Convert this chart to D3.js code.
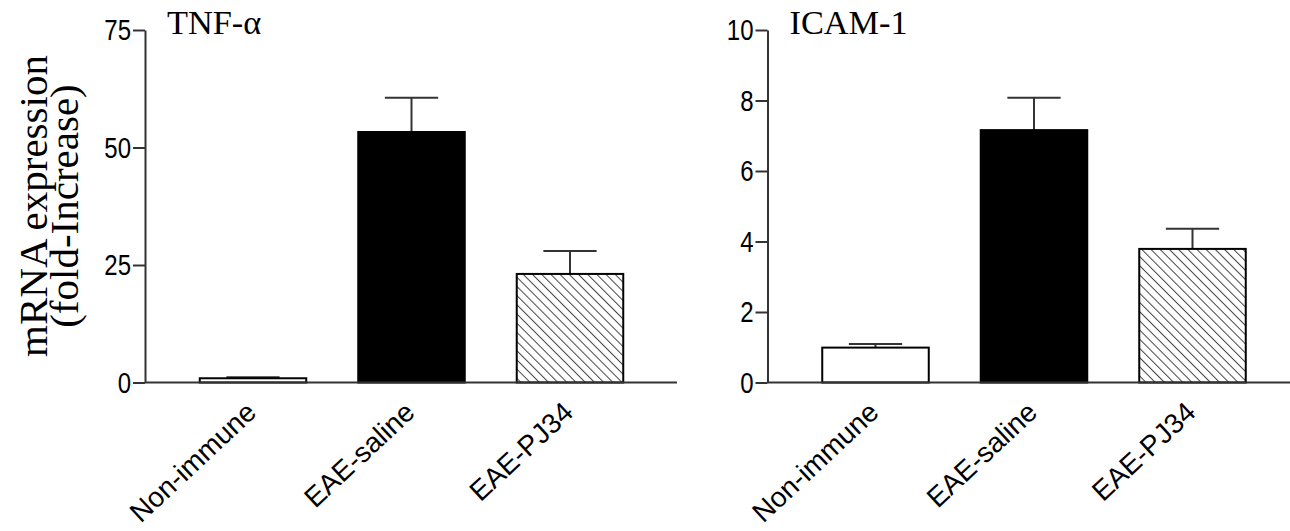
<!DOCTYPE html>
<html>
<head>
<meta charset="utf-8">
<script src="https://cdn.jsdelivr.net/npm/d3@7"></script>
<style>
  body { margin: 0; background: white; }
</style>
</head>
<body>
<div id="canvas"></div>
<script>
"use strict"

/* Data */
let categories = ["Non-immune", "EAE-saline", "EAE-PJ34"];
let tnfMean = [0.9, 53.3, 23.1];
let tnfSem = [0.2, 7.3, 4.9];
let icamMean = [0.99, 7.16, 3.79];
let icamSem = [0.1, 0.92, 0.57];
let tnfTicks = [0, 25, 50, 75];
let icamTicks = [0, 2, 4, 6, 8, 10];
let fills = ["white", "black", "url(#hatch)"];

/* Configuration variables: drawing */
let svgWidth = 1290;
let svgHeight = 531;
let plotTop = 30;
let plotBottom = 382.5;
let plotWidth = 532;
let axisColor = "#333";
let sansFont = "'Liberation Sans', Arial, sans-serif";
let serifFont = "'Liberation Serif', 'Times New Roman', serif";

let svg = d3.select("#canvas")
    .append("svg")
    .attr("width", svgWidth)
    .attr("height", svgHeight);

/* hatch for the PJ34 bars */
let pattern = svg.append("defs")
    .append("pattern")
    .attr("id", "hatch")
    .attr("patternUnits", "userSpaceOnUse")
    .attr("width", 6.5)
    .attr("height", 6.5)
    .attr("patternTransform", "rotate(-45)");
pattern.append("rect")
    .attr("width", 6.5)
    .attr("height", 6.5)
    .attr("fill", "white");
pattern.append("line")
    .attr("x1", 0.5).attr("y1", 0)
    .attr("x2", 0.5).attr("y2", 6.5)
    .attr("stroke", "#444")
    .attr("stroke-width", 1);

function drawPanel(x0, title, means, sems, ticks) {
    let g = svg.append("g");

    let xScale = d3.scaleBand()
        .domain(categories)
        .range([x0 + 28.75, x0 + 504.25])
        .paddingInner(0.328)
        .paddingOuter(0.164);

    let yScale = d3.scaleLinear()
        .domain([0, d3.max(ticks)])
        .range([plotBottom, plotTop]);

    let rows = categories.map(function (c, i) {
        return { cat: c, mean: means[i], sem: sems[i], fill: fills[i] };
    });

    /* error bars (drawn first so the bar covers the stem) */
    let err = g.selectAll("g.err")
        .data(rows)
        .join("g")
        .attr("class", "err")
        .attr("stroke", "#333")
        .attr("stroke-width", 2);
    err.append("line")
        .attr("x1", d => xScale(d.cat) + xScale.bandwidth() / 2)
        .attr("x2", d => xScale(d.cat) + xScale.bandwidth() / 2)
        .attr("y1", d => yScale(d.mean))
        .attr("y2", d => yScale(d.mean + d.sem));
    err.append("line")
        .attr("x1", d => xScale(d.cat) + xScale.bandwidth() / 4)
        .attr("x2", d => xScale(d.cat) + xScale.bandwidth() * 3 / 4)
        .attr("y1", d => yScale(d.mean + d.sem))
        .attr("y2", d => yScale(d.mean + d.sem));

    /* bars */
    g.selectAll("rect.bar")
        .data(rows)
        .join("rect")
        .attr("class", "bar")
        .attr("x", d => xScale(d.cat))
        .attr("width", xScale.bandwidth())
        .attr("y", d => yScale(d.mean))
        .attr("height", d => yScale(0) - yScale(d.mean))
        .attr("fill", d => d.fill)
        .attr("stroke", "black")
        .attr("stroke-width", 2);

    /* y axis */
    let yAxis = g.append("g")
        .attr("transform", "translate(" + x0 + ",0)")
        .call(d3.axisLeft(yScale).tickValues(ticks).tickSize(12).tickSizeOuter(0).tickPadding(2));
    yAxis.selectAll("path, line")
        .attr("stroke", axisColor)
        .attr("stroke-width", 2);
    // the original digits are tall and narrow, so squeeze Arial a bit
    yAxis.selectAll("text")
        .attr("font-family", sansFont)
        .attr("font-size", 30)
        .attr("fill", "black")
        .attr("x", 0)
        .attr("transform", "translate(-14,0) scale(0.8,1)");

    /* x baseline */
    g.append("line")
        .attr("x1", x0)
        .attr("x2", x0 + plotWidth)
        .attr("y1", yScale(0))
        .attr("y2", yScale(0))
        .attr("stroke", axisColor)
        .attr("stroke-width", 2);

    /* category labels */
    let xAxis = g.append("g")
        .attr("transform", "translate(0," + yScale(0) + ")")
        .call(d3.axisBottom(xScale).tickSize(0));
    xAxis.select(".domain").remove();
    xAxis.selectAll("text")
        .attr("font-family", sansFont)
        .attr("font-size", 28)
        .attr("fill", "black")
        .attr("text-anchor", "end")
        .attr("x", 0)
        .attr("y", 0)
        .attr("dy", 0)
        .attr("transform", "translate(5,32) rotate(-43)");

    /* panel title */
    g.append("text")
        .attr("transform", "translate(" + (x0 + 22) + ",34) scale(1.04,1)")
        .attr("font-family", serifFont)
        .attr("font-size", 33)
        .text(title);
}

drawPanel(145, "TNF-\u03b1", tnfMean, tnfSem, tnfTicks);
drawPanel(767.5, "ICAM-1", icamMean, icamSem, icamTicks);

/* shared y axis title */
let yTitle = svg.append("text")
    .attr("transform", "translate(47," + 206 + ") rotate(-90)")
    .attr("text-anchor", "middle")
    .attr("font-family", serifFont)
    .attr("font-size", 41);
yTitle.append("tspan")
    .attr("x", 0)
    .attr("y", 0)
    .text("mRNA expression");
yTitle.append("tspan")
    .attr("x", 0)
    .attr("y", 31)
    .text("(fold-Increase)");
</script>
</body>
</html>
